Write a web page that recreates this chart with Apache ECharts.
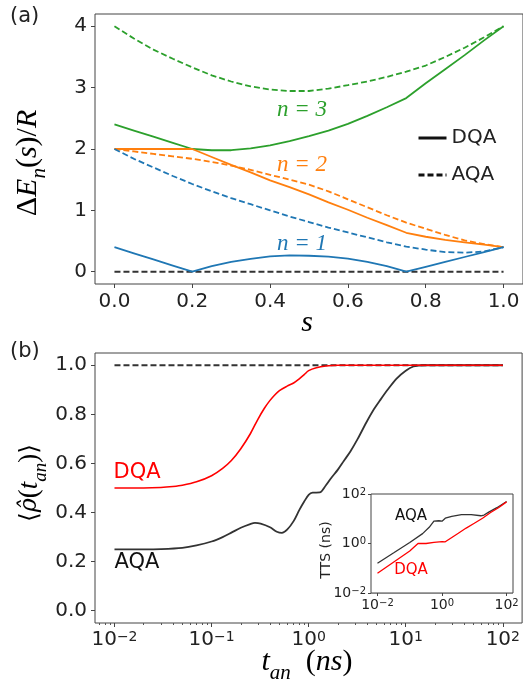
<!DOCTYPE html>
<html>
<head>
<meta charset="utf-8">
<script src="https://cdn.jsdelivr.net/npm/echarts@6/dist/echarts.min.js"></script>
<style>
  html, body { margin: 0; padding: 0; background: #fff; }
  #chart { width: 523px; height: 683px; }
</style>
</head>
<body>
<div id="chart"></div>
<script>
// (a) gaps Delta E_n(s)/R against s
var sVals = [0, 0.05, 0.1, 0.15, 0.2, 0.25, 0.3, 0.35, 0.4, 0.45, 0.5, 0.55, 0.6, 0.65, 0.7, 0.75, 0.8, 0.85, 0.9, 0.95, 1.0];
var dqaN1 = [0.4, 0.3, 0.2, 0.1, 0, 0.09, 0.16, 0.21, 0.25, 0.265, 0.26, 0.245, 0.215, 0.16, 0.09, 0, 0.08, 0.16, 0.24, 0.32, 0.4];
var aqaN1 = [2.0, 1.84, 1.7, 1.56, 1.43, 1.31, 1.2, 1.1, 1.0, 0.9, 0.81, 0.72, 0.64, 0.56, 0.48, 0.41, 0.36, 0.32, 0.31, 0.33, 0.4];
var dqaN2 = [2.0, 2.0, 2.0, 2.0, 2.0, 1.87, 1.74, 1.62, 1.49, 1.38, 1.26, 1.13, 1.01, 0.88, 0.76, 0.635, 0.57, 0.52, 0.48, 0.44, 0.4];
var aqaN2 = [2.0, 1.96, 1.92, 1.88, 1.84, 1.79, 1.73, 1.66, 1.58, 1.5, 1.42, 1.31, 1.18, 1.05, 0.92, 0.8, 0.7, 0.6, 0.51, 0.45, 0.4];
var dqaN3 = [2.4, 2.3, 2.2, 2.1, 2.0, 1.98, 1.98, 2.01, 2.06, 2.13, 2.21, 2.3, 2.41, 2.54, 2.68, 2.83, 3.07, 3.3, 3.53, 3.77, 4.0];
var aqaN3 = [4.0, 3.8, 3.62, 3.47, 3.33, 3.2, 3.1, 3.02, 2.97, 2.945, 2.945, 2.985, 3.04, 3.1, 3.175, 3.26, 3.36, 3.5, 3.65, 3.82, 4.0];
var groundS = [0, 1];
var groundGap = [0, 0];
var sTicks = [0, 0.2, 0.4, 0.6, 0.8, 1.0];
var gapTicks = [0, 1, 2, 3, 4];

// (b) <rho(t_an)> against annealing time
var tDqa = [0.01, 0.02, 0.03, 0.04, 0.05, 0.07, 0.1, 0.13, 0.16, 0.2, 0.25, 0.3, 0.35, 0.4, 0.45, 0.5, 0.6, 0.7, 0.8, 0.9, 1.0, 1.2, 1.5, 2, 5, 100];
var rhoDqa = [0.5, 0.5, 0.502, 0.506, 0.511, 0.525, 0.55, 0.58, 0.612, 0.66, 0.72, 0.78, 0.825, 0.857, 0.88, 0.897, 0.915, 0.928, 0.945, 0.962, 0.978, 0.99, 0.997, 1.0, 1.0, 1.0];
var tAqa = [0.01, 0.02, 0.03, 0.05, 0.07, 0.1, 0.13, 0.16, 0.2, 0.25, 0.28, 0.32, 0.4, 0.47, 0.53, 0.6, 0.7, 0.8, 0.9, 1.0, 1.1, 1.3, 1.5, 1.7, 2.0, 2.3, 2.7, 3.2, 3.9, 4.6, 5.5, 6.5, 8, 10, 12, 16, 100];
var rhoAqa = [0.25, 0.25, 0.251, 0.256, 0.266, 0.282, 0.3, 0.318, 0.338, 0.353, 0.358, 0.355, 0.34, 0.322, 0.317, 0.33, 0.365, 0.41, 0.445, 0.472, 0.481, 0.482, 0.51, 0.54, 0.575, 0.61, 0.65, 0.7, 0.765, 0.815, 0.86, 0.9, 0.945, 0.978, 0.995, 1.0, 1.0];
var tLimit = [0.01, 100];
var rhoLimit = [1.0, 1.0];
var rhoTicks = [0, 0.2, 0.4, 0.6, 0.8, 1.0];
var tTicks = [0.01, 0.1, 1, 10, 100];

// inset: TTS (ns)
var ttsTAqa = [0.01, 0.032, 0.1, 0.25, 0.4, 0.56, 0.8, 1, 1.26, 2, 4, 8, 16, 20, 28, 50, 100];
var ttsAqa = [0.16, 0.42, 1.1, 2.5, 4.5, 8, 8.3, 8, 10.5, 12.6, 14.8, 14.8, 13.2, 14.1, 18.6, 28, 50];
var ttsTDqa = [0.01, 0.032, 0.1, 0.18, 0.32, 0.56, 1, 1.26, 1.8, 3.2, 5.6, 10, 18, 32, 56, 100];
var ttsDqa = [0.063, 0.18, 0.5, 1.0, 1.0, 1.12, 1.2, 1.17, 1.6, 2.6, 4.2, 6.6, 10.5, 17.8, 28, 48];
var insetTicks = [0.01, 1, 100];

function pairs(xs, ys) {
  return xs.map(function (x, i) { return [x, ys[i]]; });
}

var minorTicks = [];
[0.001, 0.01, 0.1, 1, 10].forEach(function (d) {
  for (var m = 2; m <= 9; m++) minorTicks.push(+(m * d).toPrecision(3));
});

var BLUE = "#1f77b4", ORANGE = "#ff7f0e", GREEN = "#2ca02c", INK = "#222", DARK = "#333";
var SANS = "DejaVu Sans", SERIF = "Liberation Serif";

function powLabel(v) {
  var e = Math.round(Math.log10(v));
  return "10{sup|" + (e < 0 ? "\u2212" + (-e) : e) + "}";
}

function lineSeries(xi, yi, data, color, dashed, width) {
  return {
    type: "line", xAxisIndex: xi, yAxisIndex: yi, data: data,
    symbol: "none", silent: true, animation: false,
    lineStyle: { color: color, width: width || 1.8, type: dashed ? [6, 3] : "solid" }
  };
}

function mathRich(size) {
  return {
    i: { fontFamily: SERIF, fontStyle: "italic", fontSize: size, color: INK },
    r: { fontFamily: SERIF, fontSize: size, color: INK },
    g: { fontFamily: "DejaVu Serif", fontStyle: "italic", fontSize: size - 3, color: INK },
    b: { fontFamily: "DejaVu Serif", fontSize: size - 2, color: INK },
    sub: { fontFamily: SERIF, fontStyle: "italic", fontSize: Math.round(size * 0.7), color: INK,
      verticalAlign: "bottom", padding: [0, 0, -7, 0] }
  };
}

var TICK = "#444";
var noLine = { show: false, onZero: false };

var dom = document.getElementById("chart");
var myChart = echarts.init(dom, null, { renderer: "canvas" });

var option = {
  animation: false,
  backgroundColor: "#fff",
  grid: [
    { left: 95, top: 14, width: 432, height: 270, show: true, borderColor: "#444", borderWidth: 1, backgroundColor: "transparent" },
    { left: 95, top: 353, width: 432, height: 270, show: true, borderColor: "#444", borderWidth: 1, backgroundColor: "transparent" },
    { left: 371, top: 494, width: 142, height: 99, show: true, borderColor: "#444", borderWidth: 1, backgroundColor: "#fff", z: 5 }
  ],
  xAxis: [
    {
      gridIndex: 0, type: "value", min: -0.05, max: 1.05,
      axisLine: noLine, splitLine: { show: false },
      axisTick: { show: true, length: 4, customValues: sTicks, lineStyle: { color: TICK } },
      axisLabel: { customValues: sTicks, margin: 8, fontSize: 20, fontFamily: SANS, color: INK,
        formatter: function (v) { return v.toFixed(1); } }
    },
    {
      gridIndex: 1, type: "log", logBase: 10, min: 0.0063, max: 158,
      axisLine: noLine, splitLine: { show: false },
      axisTick: { show: true, length: 4, customValues: tTicks, lineStyle: { color: TICK } },
      axisLabel: { customValues: tTicks, margin: 7, fontSize: 20, fontFamily: SANS, color: INK,
        formatter: powLabel,
        rich: { sup: { fontSize: 14, fontFamily: SANS, color: INK, verticalAlign: "top" } } }
    },
    {
      gridIndex: 1, type: "log", logBase: 10, min: 0.0063, max: 158, position: "bottom",
      axisLine: noLine, splitLine: { show: false },
      axisTick: { show: true, length: 2, customValues: minorTicks, lineStyle: { color: "#555" } },
      axisLabel: { show: false }
    },
    {
      gridIndex: 2, type: "log", logBase: 10, min: 0.0063, max: 158,
      axisLine: noLine,
      splitLine: { show: true, lineStyle: { color: "#c8c8c8", width: 1 } },
      axisTick: { show: true, length: 3, customValues: insetTicks, lineStyle: { color: TICK } },
      axisLabel: { customValues: insetTicks, margin: 5, fontSize: 14, fontFamily: SANS, color: INK,
        formatter: powLabel,
        rich: { sup: { fontSize: 10, fontFamily: SANS, color: INK, verticalAlign: "top" } } }
    }
  ],
  yAxis: [
    {
      gridIndex: 0, type: "value", min: -0.2, max: 4.2,
      axisLine: noLine, splitLine: { show: false },
      axisTick: { show: true, length: 4, customValues: gapTicks, lineStyle: { color: TICK } },
      axisLabel: { customValues: gapTicks, margin: 8, fontSize: 20, fontFamily: SANS, color: INK }
    },
    {
      gridIndex: 1, type: "value", min: -0.05, max: 1.05,
      axisLine: noLine, splitLine: { show: false },
      axisTick: { show: true, length: 4, customValues: rhoTicks, lineStyle: { color: TICK } },
      axisLabel: { customValues: rhoTicks, margin: 8, fontSize: 20, fontFamily: SANS, color: INK,
        formatter: function (v) { return v.toFixed(1); } }
    },
    {
      gridIndex: 2, type: "log", logBase: 10, min: 0.01, max: 100,
      axisLine: noLine,
      splitLine: { show: true, lineStyle: { color: "#c8c8c8", width: 1 } },
      axisTick: { show: true, length: 3, customValues: insetTicks, lineStyle: { color: TICK } },
      axisLabel: { customValues: insetTicks, margin: 5, fontSize: 14, fontFamily: SANS, color: INK,
        formatter: powLabel,
        rich: { sup: { fontSize: 10, fontFamily: SANS, color: INK, verticalAlign: "top" } } }
    }
  ],
  legend: {
    data: ["DQA", "AQA"], orient: "vertical", left: 412, top: 123,
    itemWidth: 28, itemHeight: 14, itemGap: 17, selectedMode: false,
    itemStyle: { color: "rgba(0,0,0,0)", borderWidth: 0, opacity: 0 },
    lineStyle: { width: 3 },
    textStyle: { fontSize: 20, fontFamily: SANS, color: INK }
  },
  series: [
    { name: "DQA", type: "line", xAxisIndex: 0, yAxisIndex: 0, data: [], symbol: "none",
      lineStyle: { color: "#111", width: 3 }, itemStyle: { color: "rgba(0,0,0,0)" } },
    { name: "AQA", type: "line", xAxisIndex: 0, yAxisIndex: 0, data: [], symbol: "none",
      lineStyle: { color: "#111", width: 3, type: [6, 3] }, itemStyle: { color: "rgba(0,0,0,0)" } },
    lineSeries(0, 0, pairs(groundS, groundGap), DARK, true),
    lineSeries(0, 0, pairs(sVals, aqaN3), GREEN, true),
    lineSeries(0, 0, pairs(sVals, dqaN3), GREEN, false),
    lineSeries(0, 0, pairs(sVals, aqaN2), ORANGE, true),
    lineSeries(0, 0, pairs(sVals, dqaN2), ORANGE, false),
    lineSeries(0, 0, pairs(sVals, aqaN1), BLUE, true),
    lineSeries(0, 0, pairs(sVals, dqaN1), BLUE, false),
    lineSeries(1, 1, pairs(tLimit, rhoLimit), DARK, true),
    Object.assign(lineSeries(1, 1, pairs(tAqa, rhoAqa), DARK, false), { smooth: 0.3 }),
    Object.assign(lineSeries(1, 1, pairs(tDqa, rhoDqa), "#ff0000", false, 1.6), { smooth: 0.3 }),
    Object.assign(lineSeries(3, 2, pairs(ttsTAqa, ttsAqa), DARK, false, 1.3), { z: 6 }),
    Object.assign(lineSeries(3, 2, pairs(ttsTDqa, ttsDqa), "#ff0000", false, 1.3), { z: 6 })
  ],
  graphic: [
    { type: "text", left: 10, top: 6, style: { text: "(a)", font: "21px 'DejaVu Sans'", fill: INK } },
    { type: "text", left: 10, top: 341, style: { text: "(b)", font: "21px 'DejaVu Sans'", fill: INK } },
    { type: "text", x: 28, y: 163, rotation: Math.PI / 2,
      style: { text: "{r|\u0394}{i|E}{sub|n}{r|(}{i|s}{r|)/}{i|R}", rich: mathRich(30), align: "center", verticalAlign: "middle" } },
    { type: "text", x: 307, y: 323,
      style: { text: "{i|s}", rich: mathRich(30), align: "center", verticalAlign: "middle" } },
    { type: "text", x: 30, y: 483, rotation: Math.PI / 2,
      style: { text: "{b|\u27e8}{g|\u03c1\u0302}{r|(}{i|t}{sub|an}{r|)}{b|\u27e9}", rich: mathRich(27), align: "center", verticalAlign: "middle" } },
    { type: "text", x: 307, y: 662,
      style: { text: "{i|t}{sub|an}{r|  (}{i|ns}{r|)}", rich: mathRich(30), align: "center", verticalAlign: "middle" } },
    { type: "text", x: 302, y: 110,
      style: { text: "n = 3", font: "italic 23px 'Liberation Serif'", fill: GREEN, align: "center", verticalAlign: "middle" } },
    { type: "text", x: 302, y: 165,
      style: { text: "n = 2", font: "italic 23px 'Liberation Serif'", fill: ORANGE, align: "center", verticalAlign: "middle" } },
    { type: "text", x: 302, y: 244,
      style: { text: "n = 1", font: "italic 23px 'Liberation Serif'", fill: BLUE, align: "center", verticalAlign: "middle" } },
    { type: "text", x: 137, y: 473,
      style: { text: "DQA", font: "21px 'DejaVu Sans'", fill: "#ff0000", align: "center", verticalAlign: "middle" } },
    { type: "text", x: 137, y: 563,
      style: { text: "AQA", font: "21px 'DejaVu Sans'", fill: "#111", align: "center", verticalAlign: "middle" } },
    { type: "text", x: 411, y: 516, z: 10,
      style: { text: "AQA", font: "15px 'DejaVu Sans'", fill: "#111", align: "center", verticalAlign: "middle" } },
    { type: "text", x: 411, y: 570, z: 10,
      style: { text: "DQA", font: "15px 'DejaVu Sans'", fill: "#ff0000", align: "center", verticalAlign: "middle" } },
    { type: "text", x: 326, y: 550, rotation: Math.PI / 2, z: 10,
      style: { text: "TTS (ns)", font: "14px 'DejaVu Sans'", fill: INK, align: "center", verticalAlign: "middle" } }
  ]
};

myChart.setOption(option);
window.addEventListener("resize", myChart.resize);
</script>
</body>
</html>
